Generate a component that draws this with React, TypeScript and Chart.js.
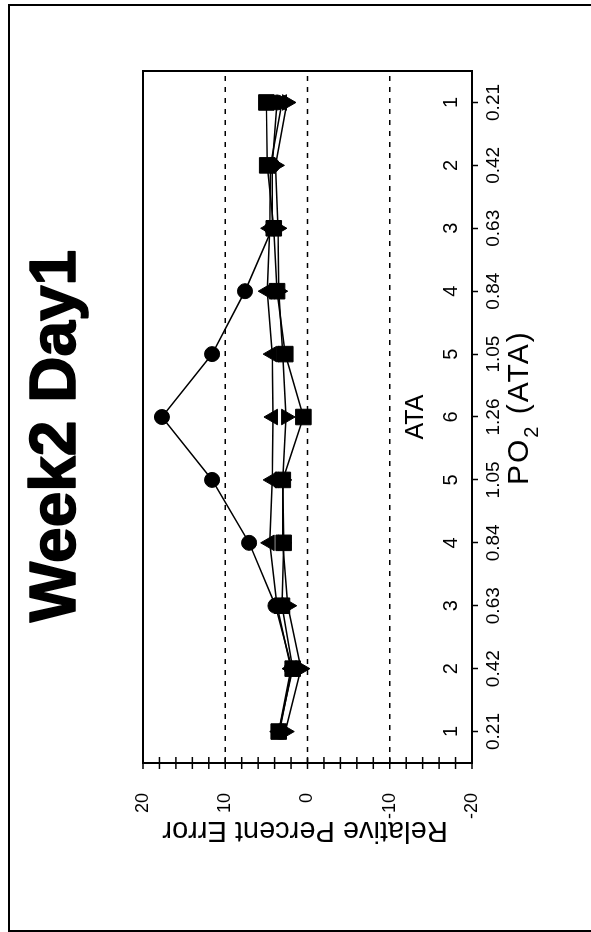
import { useEffect, useRef } from 'react';
import { Chart, registerables } from 'chart.js';

Chart.register(...registerables);

// ---- data ----
const ATA_LABELS = ['1', '2', '3', '4', '5', '6', '5', '4', '3', '2', '1'];
const PO2_LABELS = ['0.21', '0.42', '0.63', '0.84', '1.05', '1.26', '1.05', '0.84', '0.63', '0.42', '0.21'];
const CIRCLE = [3.4, 1.9, 3.9, 7.1, 11.6, 17.7, 11.6, 7.6, 4.3, 4.3, 3.7];
const TRI_UP = [3.5, 2.0, 3.7, 4.6, 4.3, 4.2, 4.3, 4.9, 4.6, 4.5, 3.1];
const SQUARE = [3.5, 1.8, 3.1, 2.9, 3.0, 0.5, 2.7, 3.7, 4.1, 4.9, 5.0];
const TRI_DOWN = [2.7, 0.8, 2.4, 3.0, 3.0, 2.6, 3.0, 3.5, 3.6, 3.9, 2.5];
const Y_LABELED_TICKS = [20, 10, 0, -10, -20];
const GRID_VALUES = [10, 0, -10];
const TITLE = 'Week2 Day1';
const Y_TITLE = 'Relative Percent Error';
const X_TITLE_MAIN = 'PO';
const X_TITLE_SUB = '2';
const X_TITLE_REST = ' (ATA)';
const INNER_TITLE = 'ATA';

const FONT = "'Liberation Sans', Arial, Helvetica, sans-serif";

const decor = {
  id: 'decor',
  beforeDatasetsDraw(chart: any) {
    const { ctx, chartArea: a, scales } = chart;
    const y = scales.y;
    ctx.save();
    ctx.strokeStyle = '#000';
    ctx.lineWidth = 1.5;
    ctx.setLineDash([5, 6]);
    for (const v of GRID_VALUES) {
      const py = y.getPixelForValue(v);
      ctx.beginPath();
      ctx.moveTo(a.left, py);
      ctx.lineTo(a.right, py);
      ctx.stroke();
    }
    ctx.restore();
  },
  afterDraw(chart: any) {
    const { ctx, chartArea: a, scales } = chart;
    const x = scales.x;
    const y = scales.y;
    ctx.save();
    ctx.strokeStyle = '#000';
    ctx.fillStyle = '#000';
    ctx.setLineDash([]);
    // outer frame
    ctx.lineWidth = 2;
    ctx.strokeRect(1, 9, 926, 700);
    // plot box
    ctx.strokeRect(a.left, a.top, a.right - a.left, a.bottom - a.top);
    // value ticks crossing the left axis
    ctx.lineWidth = 1.5;
    for (let v = -20; v <= 20; v += 2) {
      const py = y.getPixelForValue(v);
      ctx.beginPath();
      ctx.moveTo(a.left - 6, py);
      ctx.lineTo(a.left + 6, py);
      ctx.stroke();
    }
    // inner ATA numbers
    ctx.textAlign = 'center';
    ctx.textBaseline = 'alphabetic';
    ctx.font = `20px ${FONT}`;
    ATA_LABELS.forEach((lab, i) => {
      ctx.fillText(lab, x.getPixelForValue(i), 457);
    });
    // inner "ATA"
    ctx.font = `25px ${FONT}`;
    ctx.fillText(INNER_TITLE, x.getPixelForValue(5), 423);
    // x title with subscript
    ctx.textAlign = 'left';
    (ctx as any).letterSpacing = '2px';
    let cx = 447;
    ctx.font = `30px ${FONT}`;
    ctx.fillText(X_TITLE_MAIN, cx, 528);
    cx += ctx.measureText(X_TITLE_MAIN).width;
    ctx.font = `20px ${FONT}`;
    ctx.fillText(X_TITLE_SUB, cx, 538);
    cx += ctx.measureText(X_TITLE_SUB).width;
    ctx.font = `30px ${FONT}`;
    ctx.fillText(X_TITLE_REST, cx, 528);
    (ctx as any).letterSpacing = '0px';
    // y title
    ctx.save();
    ctx.translate(110, 305);
    ctx.rotate(-Math.PI / 2);
    ctx.textAlign = 'center';
    ctx.font = `29px ${FONT}`;
    ctx.fillText(Y_TITLE, 0, 0);
    ctx.restore();
    // main title
    ctx.textAlign = 'center';
    ctx.font = `bold 64px ${FONT}`;
    ctx.lineWidth = 1.6;
    ctx.lineJoin = 'round';
    ctx.fillText(TITLE, 496, 75);
    ctx.strokeText(TITLE, 496, 75);
    ctx.restore();
  },
};

function ds(data: number[], style: string, radius: number, rotation = 0) {
  return {
    data,
    borderColor: '#000',
    backgroundColor: '#000',
    borderWidth: 1.5,
    pointStyle: style,
    pointRadius: radius,
    pointRotation: rotation,
    pointBorderWidth: 1,
    pointBorderColor: '#000',
    pointBackgroundColor: '#000',
    tension: 0,
    fill: false,
  };
}

export default function App() {
  const ref = useRef<HTMLCanvasElement>(null);
  useEffect(() => {
    const chart = new Chart(ref.current as HTMLCanvasElement, {
      type: 'line',
      data: {
        labels: ATA_LABELS,
        datasets: [
          ds(CIRCLE, 'circle', 7.5),
          ds(TRI_UP, 'triangle', 9),
          ds(SQUARE, 'rect', 11),
          ds(TRI_DOWN, 'triangle', 9, 180),
        ] as any,
      },
      options: {
        animation: false,
        responsive: false,
        devicePixelRatio: 1,
        layout: { padding: { left: 0, top: 143, right: 71, bottom: 0 } },
        plugins: { legend: { display: false }, tooltip: { enabled: false }, title: { display: false } },
        scales: {
          x: {
            type: 'category',
            offset: true,
            afterFit: (s: any) => { s.height = 119; },
            grid: { display: true, drawOnChartArea: false, drawTicks: true, tickLength: 6, tickColor: '#000', tickWidth: 1.5, color: '#000' },
            border: { display: false },
            ticks: {
              autoSkip: false,
              maxRotation: 0,
              minRotation: 0,
              padding: 4,
              color: '#000',
              font: { family: FONT, size: 19 },
              callback: (_v: any, i: number) => PO2_LABELS[i],
            },
          },
          y: {
            min: -20,
            max: 20,
            afterFit: (s: any) => { s.width = 169; },
            grid: { display: false },
            border: { display: false },
            ticks: {
              stepSize: 2,
              autoSkip: false,
              padding: 22,
              color: '#000',
              font: { family: FONT, size: 18 },
              callback: (v: any) => (Y_LABELED_TICKS.includes(Number(v)) ? String(v) : ''),
            },
          },
        },
      } as any,
      plugins: [decor],
    });
    return () => chart.destroy();
  }, []);
  return (
    <div style={{ position: 'absolute', left: 0, top: 0, width: 591, height: 932, overflow: 'hidden', background: '#fff' }}>
      <canvas
        ref={ref}
        width={932}
        height={591}
        style={{ position: 'absolute', left: 0, top: 0, width: 932, height: 591, transformOrigin: '0 0', transform: 'translate(0px, 932px) rotate(-90deg)' }}
      />
    </div>
  );
}
